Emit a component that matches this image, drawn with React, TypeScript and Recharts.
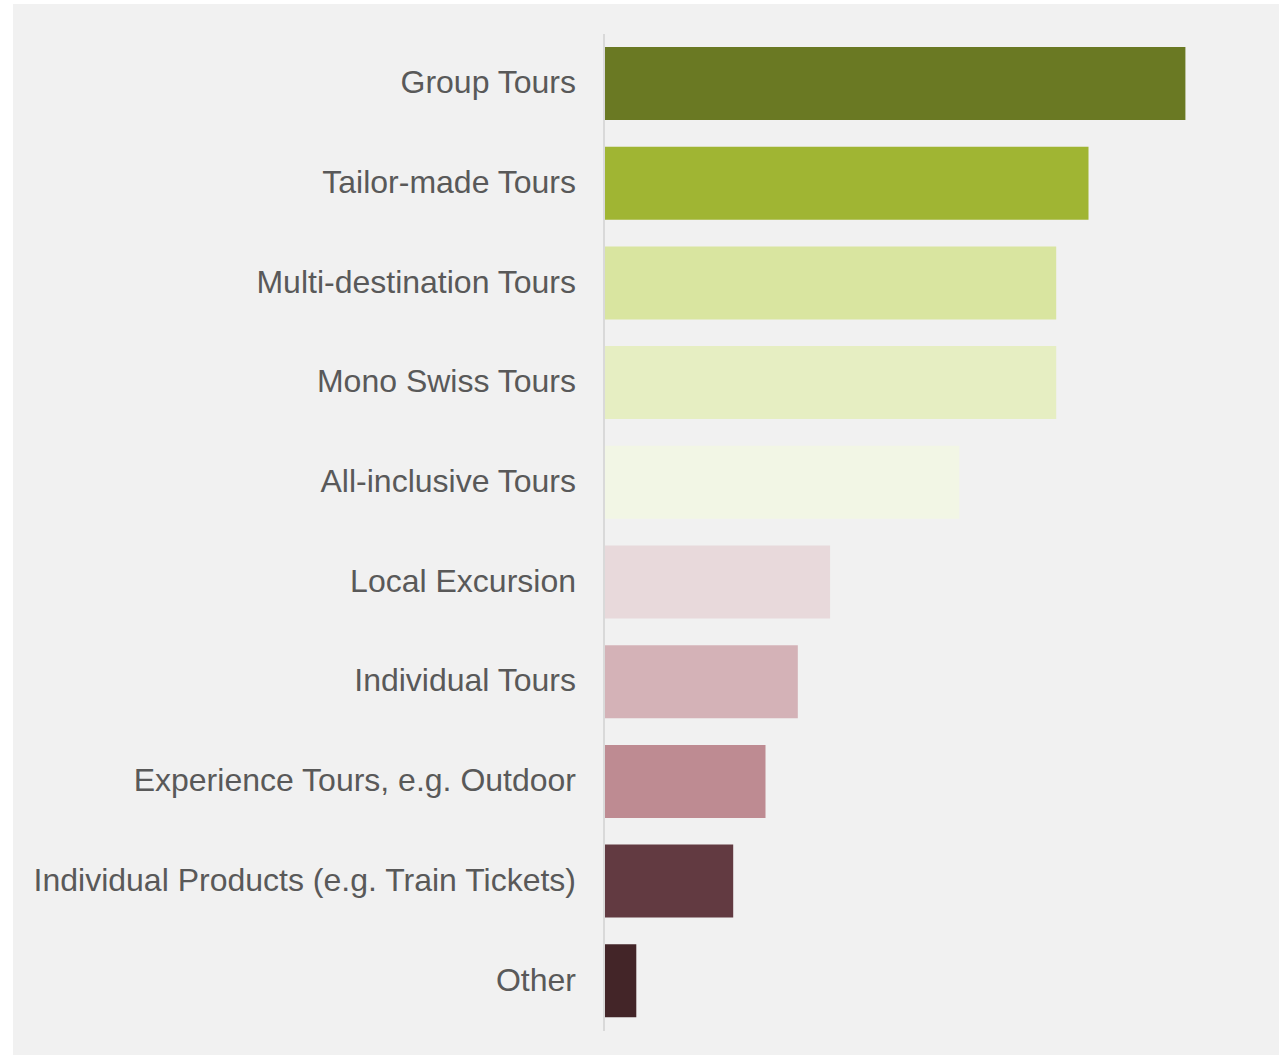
import { BarChart, Bar, XAxis, YAxis, Cell } from "recharts";

const categories = [
  "Group Tours",
  "Tailor-made Tours",
  "Multi-destination Tours",
  "Mono Swiss Tours",
  "All-inclusive Tours",
  "Local Excursion",
  "Individual Tours",
  "Experience Tours, e.g. Outdoor",
  "Individual Products (e.g. Train Tickets)",
  "Other",
];

const values = [18, 15, 14, 14, 11, 7, 6, 5, 4, 1];

const COLORS = [
  "#6a7923",
  "#a0b533",
  "#d9e5a0",
  "#e6eec2",
  "#f2f6e5",
  "#e8d9db",
  "#d4b2b7",
  "#be8b92",
  "#623a41",
  "#432528",
];

const data = categories.map((name, i) => ({ name, value: values[i] }));

export default function App() {
  return (
    <div
      style={{
        position: "absolute",
        left: 13,
        top: 4,
        width: 1266,
        height: 1051,
        background: "#f1f1f1",
      }}
    >
      <BarChart
        width={1266}
        height={1050}
        data={data}
        layout="vertical"
        margin={{ top: 30, right: 29, bottom: 23, left: 0 }}
        barSize={73}
      >
        <XAxis type="number" domain={[0, 20]} hide />
        <YAxis
          type="category"
          dataKey="name"
          width={591}
          tickLine={false}
          tickSize={0}
          tickMargin={28}
          axisLine={{ stroke: "#d9d9d9", strokeWidth: 2 }}
          tick={{
            fill: "#595959",
            fontSize: 32,
            dy: -2,
            fontFamily: "'Liberation Sans', Arial, sans-serif",
          }}
          interval={0}
        />
        <Bar dataKey="value" isAnimationActive={false}>
          {data.map((_, i) => (
            <Cell key={`cell-${i}`} fill={COLORS[i]} />
          ))}
        </Bar>
      </BarChart>
    </div>
  );
}
